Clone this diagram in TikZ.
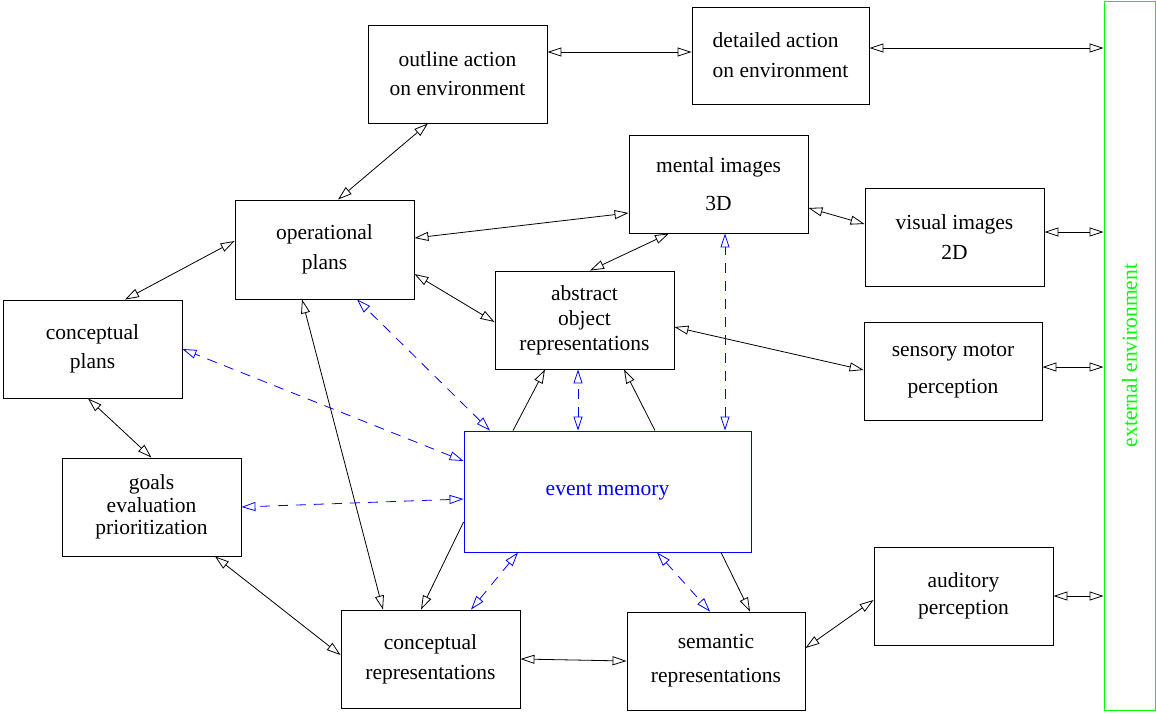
\documentclass[tikz,border=0pt]{standalone}
\usepackage{fontspec}
\setmainfont{Liberation Serif}
\usetikzlibrary{arrows.meta}

\begin{document}
\begin{tikzpicture}[x=1pt, y=-1pt, >={Triangle[open, length=14pt, width=9pt]},
  box/.style={draw, line width=0.9pt, inner sep=0pt, minimum width=179pt, minimum height=98pt, align=center, font=\fontsize{21.5}{25}\selectfont},
  link/.style={line width=0.8pt},
  mem/.style={blue, line width=0.8pt, dash pattern=on 10pt off 8pt}]
  \useasboundingbox (0,0) rectangle (1156,713);

  \node[box] (outline) at (457.5,74) {outline action\\[4pt]on environment};
  \node[box, minimum width=177pt, minimum height=97pt, align=left] (detailed) at (780.5,55.5) {detailed action\\[5pt]on environment};
  \node[box] (mental) at (718.5,184) {mental images\\[13pt]3D};
  \node[box] (visual) at (954.5,237) {visual images\\[5pt]2D};
  \node[box, minimum height=99pt] (opplan) at (324.5,249.5) {operational\\[5pt]plans};
  \node[box] (abstract) at (584.5,320) {abstract\\object\\representations};
  \node[box] (concplan) at (92.5,349) {conceptual\\[4pt]plans};
  \node[box, minimum width=178pt] (sensory) at (953,371) {sensory motor\\[12pt]perception};
  \node[box, draw=blue, text=blue, minimum width=287pt, minimum height=121pt] (event) at (607.5,491.5) {event memory};
  \node[box] (goals) at (151.5,507) {goals\\[-2.5pt]evaluation\\[-2.5pt]prioritization};
  \node[box] (auditory) at (963.5,596) {auditory\\[2pt]perception};
  \node[box] (concrep) at (430.5,659) {conceptual\\[5pt]representations};
  \node[box, minimum width=178pt] (semantic) at (716,661) {semantic\\[9pt]representations};
  \node[box, draw=green, minimum width=51pt, minimum height=709pt, label={[rotate=90, text=green, font=\fontsize{21.5}{25}\selectfont]center:external environment}] (extenv) at (1129.5,355.5) {};

  \draw[link, <->] ([yshift=22pt]outline.east) -- ([yshift=3.5pt]detailed.west);
  \draw[link, <->] ([yshift=7.5pt]detailed.east) -- ([yshift=7.5pt]detailed.east -| extenv.west);
  \draw[link, <->] ([yshift=5pt]visual.east) -- ([yshift=5pt]visual.east -| extenv.west);
  \draw[link, <->] ([yshift=4pt]sensory.east) -- ([yshift=4pt]sensory.east -| extenv.west);
  \draw[link, <->] (auditory.east) -- (auditory.east -| extenv.west);

  \draw[link, <->] ([xshift=-29.5pt]outline.south) -- ([xshift=13.5pt]opplan.north);
  \draw[link, <->] ([yshift=11.5pt]opplan.east) -- ([yshift=-29pt]mental.west);
  \draw[link, <->] ([yshift=8.5pt]opplan.west) -- ([xshift=32.5pt]concplan.north);
  \draw[link, <->] ([yshift=-24.5pt]opplan.east) -- ([yshift=-2pt]abstract.west);
  \draw[link, <->] ([xshift=-49.5pt]mental.south) -- ([xshift=5.5pt]abstract.north);
  \draw[link, <->] ([yshift=-24pt]mental.east) -- ([yshift=13pt]visual.west);
  \draw[link, <->] ([yshift=1pt]sensory.west) -- ([yshift=-7pt]abstract.east);
  \draw[link, <->] ([yshift=-4pt]auditory.west) -- ([yshift=13pt]semantic.east);
  \draw[link, <->] (concrep.east) -- (semantic.west);
  \draw[link, <->] ([xshift=63.5pt]goals.south) -- ([yshift=4pt]concrep.west);
  \draw[link, <->] ([xshift=-4.5pt]concplan.south) -- (goals.north);
  \draw[link, <->] ([xshift=-22.5pt]opplan.south) -- ([xshift=-47.5pt]concrep.north);

  \draw[link, ->] ([yshift=-30.5pt]event.west) -- ([xshift=-9.5pt]concrep.north);
  \draw[link, ->] ([xshift=113.5pt]event.south) -- ([xshift=34pt]semantic.north);
  \draw[link, ->] ([xshift=-94.5pt]event.north) -- ([xshift=-39.5pt]abstract.south);
  \draw[link, ->] ([xshift=47.5pt]event.north) -- ([xshift=39.5pt]abstract.south);

  \draw[mem, <->] ([xshift=-29.5pt]event.north) -- ([xshift=-6.5pt]abstract.south);
  \draw[mem, <->] ([xshift=117.5pt]event.north) -- ([xshift=6.5pt]mental.south);
  \draw[mem, <->] ([xshift=-117.5pt]event.north) -- ([xshift=32.5pt]opplan.south);
  \draw[mem, <->] ([yshift=30.5pt]event.west) -- (concplan.east);
  \draw[mem, <->] ([yshift=-7.5pt]event.west) -- (goals.east);
  \draw[mem, <->] ([xshift=-89.5pt]event.south) -- ([xshift=40.5pt]concrep.north);
  \draw[mem, <->] ([xshift=49.5pt]event.south) -- ([xshift=-6pt]semantic.north);
\end{tikzpicture}
\end{document}
